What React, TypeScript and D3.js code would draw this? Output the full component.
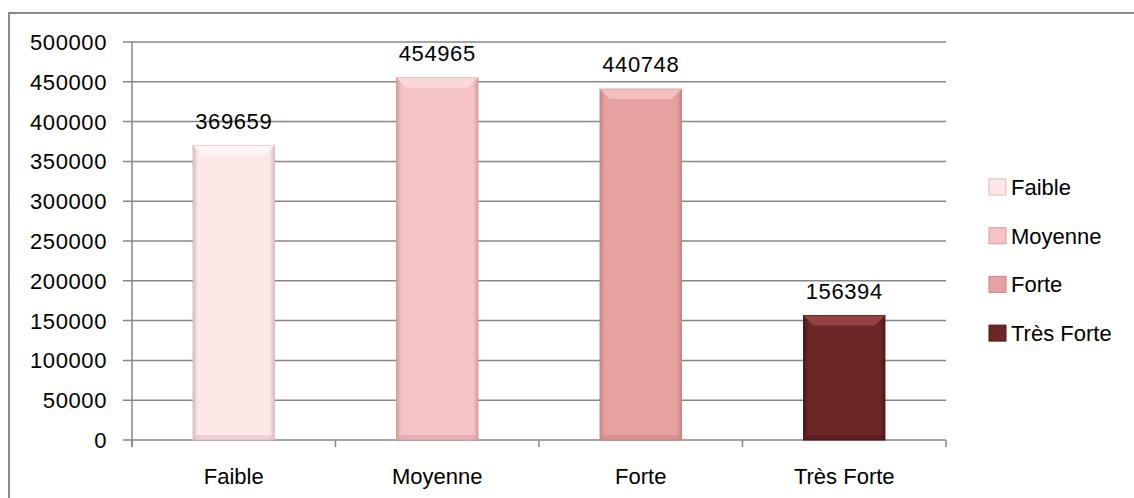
import React from "react";
import * as d3 from "d3";

const categories = ["Faible", "Moyenne", "Forte", "Très Forte"];
const values = [369659, 454965, 440748, 156394];
const yTicks = [0, 50000, 100000, 150000, 200000, 250000, 300000, 350000, 400000, 450000, 500000];

const fills = ["#fde7e7", "#f4c3c3", "#e6a1a1", "#6c2727"];
const edges = ["#d9bcbc", "#d59e9e", "#c98484", "#4e1818"];
const tops = ["#fff6f6", "#fadcdc", "#f2c0c0", "#9a4646"];

export default function App() {
  const W = 1134, H = 498;
  const left = 132, right = 946, top = 42, bottom = 440;
  const x = d3.scaleBand<string>().domain(categories).range([left, right]).paddingInner(0.6).paddingOuter(0.3);
  const band = d3.scaleBand<string>().domain(categories).range([left, right]);
  const y = d3.scaleLinear().domain([0, 500000]).range([bottom, top]);
  const font = "'Liberation Sans', Arial, sans-serif";
  const bw = x.bandwidth();
  const bev = 10;

  return (
    <div style={{ position: "absolute", left: 0, top: 0 }}>
      <svg width={W} height={H} style={{ display: "block", background: "#fff" }}>
        <defs>
          {categories.map((c, i) => (
            <linearGradient key={c} id={`g${i}`} x1="0" x2="1" y1="0" y2="0">
              <stop offset="0" stopColor={edges[i]} />
              <stop offset="0.06" stopColor={fills[i]} />
              <stop offset="0.94" stopColor={fills[i]} />
              <stop offset="1" stopColor={edges[i]} />
            </linearGradient>
          ))}
        </defs>
        <rect x={9} y={13} width={W + 10} height={H + 10} fill="none" stroke="#8a8a8a" strokeWidth={2} />
        {yTicks.map((t) => (
          <g key={t}>
            <line x1={123} x2={right} y1={y(t)} y2={y(t)} stroke="#878787" strokeWidth={1.5} />
            <text x={107} y={y(t)} dy="0.36em" textAnchor="end" fontFamily={font} fontSize={22} letterSpacing={0.6} fill="#000">
              {t}
            </text>
          </g>
        ))}
        <line x1={left} x2={left} y1={top} y2={bottom + 7} stroke="#878787" strokeWidth={1.5} />
        {[...categories.map((c) => band(c) as number), right].map((tx, i) => (
          <line key={i} x1={tx} x2={tx} y1={bottom} y2={bottom + 7} stroke="#878787" strokeWidth={1.5} />
        ))}
        {categories.map((c, i) => {
          const bx = x(c) as number;
          const by = y(values[i]);
          const bh = bottom - by;
          return (
            <g key={c}>
              <rect x={bx} y={by} width={bw} height={bh} fill={`url(#g${i})`} stroke={edges[i]} strokeWidth={1} />
              <polygon
                points={`${bx},${by} ${bx + bw},${by} ${bx + bw - bev},${by + bev} ${bx + bev},${by + bev}`}
                fill={tops[i]}
                opacity={0.9}
              />
              <polygon
                points={`${bx},${bottom} ${bx + bw},${bottom} ${bx + bw - 4},${bottom - 5} ${bx + 4},${bottom - 5}`}
                fill={edges[i]}
                opacity={0.5}
              />
              <text x={bx + bw / 2} y={by - 17} textAnchor="middle" fontFamily={font} fontSize={22} letterSpacing={0.6} fill="#000">
                {values[i]}
              </text>
              <text
                x={(band(c) as number) + band.bandwidth() / 2}
                y={476}
                dy="0.36em"
                textAnchor="middle"
                fontFamily={font}
                fontSize={22}
                fill="#000"
              >
                {c}
              </text>
            </g>
          );
        })}
        {categories.map((c, i) => {
          const ly = 187 + i * 48.7;
          return (
            <g key={c}>
              <rect x={989} y={ly - 8} width={17} height={16} fill={fills[i]} stroke={edges[i]} strokeWidth={1} />
              <text x={1011} y={ly} dy="0.36em" fontFamily={font} fontSize={22} fill="#000">
                {c}
              </text>
            </g>
          );
        })}
      </svg>
    </div>
  );
}
